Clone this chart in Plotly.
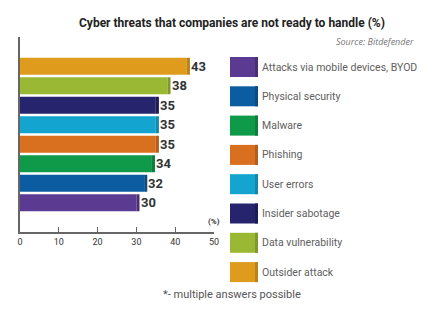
import plotly.graph_objects as go

categories = ["Attacks via mobile devices, BYOD", "Physical security", "Malware", "Phishing",
              "User errors", "Insider sabotage", "Data vulnerability", "Outsider attack"]
values = [30, 32, 34, 35, 35, 35, 38, 43]
colors = ["#5B3A92", "#0B5CA0", "#0E9A48", "#D9701F", "#13A4CF", "#27246E", "#9AB833", "#DE9B1C"]
edge_colors = ["#4A2F78", "#094D86", "#0B823C", "#B55D19", "#1089AE", "#1E1C58", "#809A2A", "#B98417"]
tick_vals = [0, 10, 20, 30, 40, 50]
edge_depth = 0.8  # visual 3D edge thickness in axis units

W, H = 437, 332
L, R, T, B = 20, 214, 37, 232

ys = list(range(len(categories)))
fig = go.Figure()
fig.add_trace(go.Bar(
    x=values, y=ys, orientation="h",
    marker=dict(color=colors, line=dict(width=0)),
    width=0.87, hoverinfo="skip",
))
fig.add_trace(go.Bar(
    x=[edge_depth] * len(values), base=values, y=ys, orientation="h",
    marker=dict(color=edge_colors, line=dict(width=0)),
    width=0.87, hoverinfo="skip",
))

def px(x):
    return (x - L) / (R - L)

def py(y):
    return (B - y) / (B - T)

shapes = []
annotations = []
for yv, v in zip(ys, values):
    annotations.append(dict(text=f"<b>{v}</b>", xref="x", yref="y", x=v + edge_depth, y=yv,
                            xanchor="left", yanchor="middle", showarrow=False, xshift=-1,
                            font=dict(family="Roboto", size=13, color="#333333")))
for i, (name, c, e) in enumerate(zip(categories, colors, edge_colors)):
    top = 57 + 29.3 * i
    shapes.append(dict(type="rect", xref="paper", yref="paper",
                       x0=px(230), x1=px(258), y0=py(top + 20), y1=py(top),
                       fillcolor=c, line=dict(width=0)))
    shapes.append(dict(type="rect", xref="paper", yref="paper",
                       x0=px(255), x1=px(258), y0=py(top + 20), y1=py(top),
                       fillcolor=e, line=dict(width=0)))
    annotations.append(dict(text=name, xref="paper", yref="paper", x=px(260), y=py(top + 10),
                            xanchor="left", yanchor="middle", showarrow=False,
                            font=dict(family="Roboto", size=10.5, color="#606060")))

annotations += [
    dict(text="<b>Cyber threats that companies are not ready to handle (%)</b>", xref="paper", yref="paper",
         x=px(232), y=py(23), xanchor="center", yanchor="middle", showarrow=False,
         font=dict(family="Roboto", size=12, color="#222222")),
    dict(text="<i>Source: Bitdefender</i>", xref="paper", yref="paper",
         x=px(416), y=py(41), xanchor="right", yanchor="middle", showarrow=False,
         font=dict(family="Open Sans", size=9, color="#777777")),
    dict(text="<b>(%)</b>", xref="paper", yref="paper",
         x=px(214), y=py(221), xanchor="center", yanchor="middle", showarrow=False,
         font=dict(family="Roboto", size=8, color="#333333")),
    dict(text="*- multiple answers possible", xref="paper", yref="paper",
         x=px(232), y=py(294), xanchor="center", yanchor="middle", showarrow=False,
         font=dict(family="Roboto", size=11, color="#555555")),
]

fig.update_layout(
    width=W, height=H, margin=dict(l=L, r=W - R, t=T, b=H - B, pad=0),
    paper_bgcolor="white", plot_bgcolor="white", showlegend=False, barmode="overlay",
    shapes=shapes, annotations=annotations,
    xaxis=dict(range=[0, 50], tickvals=tick_vals, showgrid=False, zeroline=False,
               showline=True, linecolor="#666666", linewidth=1.5,
               ticks="inside", ticklen=5, tickcolor="#666666",
               tickfont=dict(family="Roboto", size=9, color="#333333"), fixedrange=True),
    yaxis=dict(range=[-1.5, 8.5], showticklabels=False, showgrid=False, zeroline=False,
               showline=True, linecolor="#666666", linewidth=1.5, ticks="", fixedrange=True),
)

fig.write_html("out.html")
